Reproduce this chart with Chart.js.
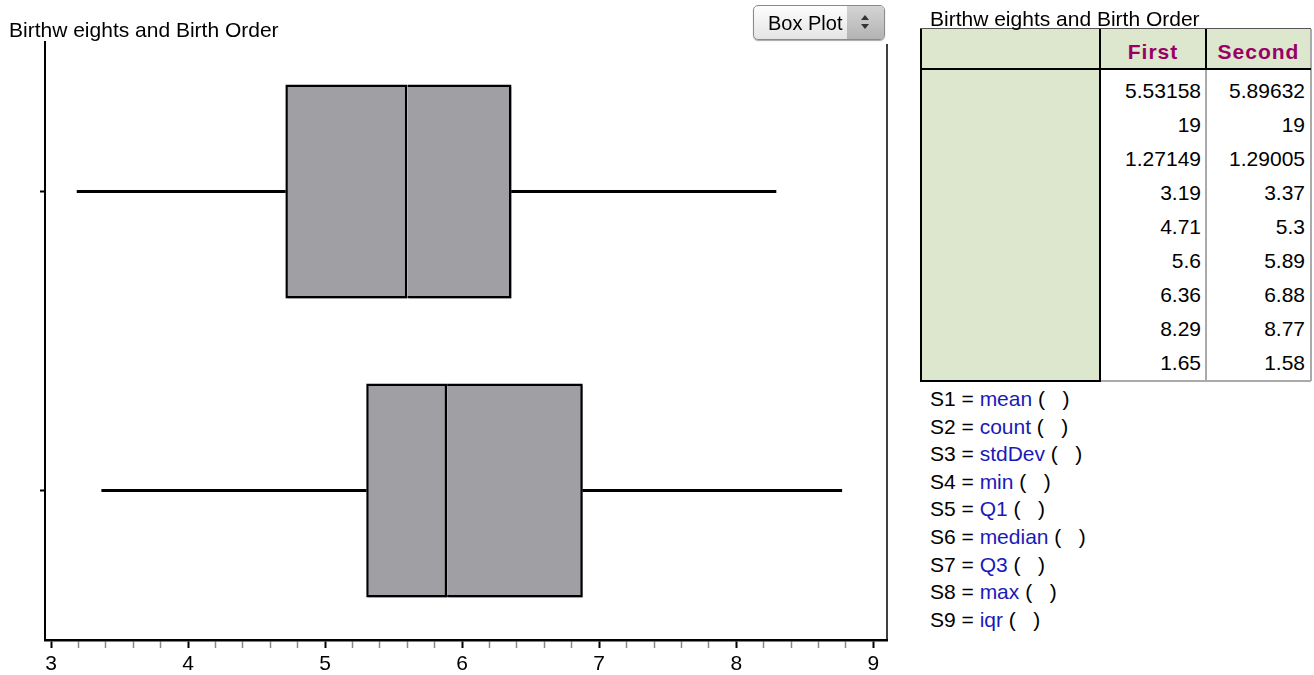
<!DOCTYPE html>
<html>
<head>
<meta charset="utf-8">
<script src="https://cdn.jsdelivr.net/npm/chart.js@4/dist/chart.umd.min.js"></script>
<style>
    html, body { margin: 0; padding: 0; background: #fff; }
    body { width: 1314px; height: 675px; position: relative; overflow: hidden;
           font-family: 'Liberation Sans', Arial, sans-serif; color: #000; }
    .abs { position: absolute; }
    #chartBox { left: 0; top: 0; width: 900px; height: 675px; }
    .title { font-size: 21px; line-height: 21px; white-space: pre; z-index: 2; }
    #plotTitle { left: 9px; top: 19px; }
    #tableTitle { left: 930px; top: 8px; }
    #btn { left: 753px; top: 5px; width: 130px; height: 33px; border: 1px solid #8a8a8a;
           border-radius: 5px; background: linear-gradient(#fdfdfd, #e4e4e4); z-index: 2;
           box-shadow: 0 1px 1px rgba(0,0,0,0.35); overflow: hidden; }
    #btn .lbl { position: absolute; left: 14px; top: 7px; font-size: 20px; line-height: 20px; }
    #btn .spin { position: absolute; right: 0; top: 0; width: 37px; height: 33px;
                 background: linear-gradient(#d4d4d4, #b3b3b3); }
    #btn .spin::before, #btn .spin::after { content: ''; position: absolute; left: 14px;
                 border-left: 4px solid transparent; border-right: 4px solid transparent; }
    #btn .spin::before { top: 9px; border-bottom: 5px solid #333; }
    #btn .spin::after { top: 18px; border-top: 5px solid #333; }
    .cell { position: absolute; font-size: 21px; line-height: 21px; text-align: right;
            box-sizing: border-box; white-space: pre; }
    .hdr { color: #990066; font-weight: bold; letter-spacing: 1px; text-align: center; }
    .sline { position: absolute; left: 930px; font-size: 21px; line-height: 21px; white-space: pre; }
    .fn { color: #1a1ab8; }
</style>
</head>
<body>
<div id="chartBox" class="abs"><canvas id="chart"></canvas></div>
<div id="plotTitle" class="abs title">Birthw eights and Birth Order</div>
<div id="btn" class="abs"><span class="lbl">Box Plot</span><span class="spin"></span></div>
<div id="tableTitle" class="abs title">Birthw eights and Birth Order</div>
<div id="table"></div>
<div id="slines"></div>

<script>
const categories = ['First', 'Second'];
const minValues = [3.19, 3.37];
const q1Values = [4.71, 5.3];
const medianValues = [5.6, 5.89];
const q3Values = [6.36, 6.88];
const maxValues = [8.29, 8.77];
const meanValues = ['5.53158', '5.89632'];
const countValues = ['19', '19'];
const stdDevValues = ['1.27149', '1.29005'];
const iqrValues = ['1.65', '1.58'];
const xTickLabels = ['3', '4', '5', '6', '7', '8', '9'];
const statNames = ['mean', 'count', 'stdDev', 'min', 'Q1', 'median', 'Q3', 'max', 'iqr'];

// ---- Chart ----
const BOX_FILL = '#a09fa4';
const isMajor = (v) => xTickLabels.includes(String(Math.round(v))) && Math.abs(v - Math.round(v)) < 1e-6;

const rightBorder = {
    id: 'rightBorder',
    afterDraw(chart) {
        const { ctx, chartArea } = chart;
        ctx.save();
        ctx.strokeStyle = '#000';
        ctx.lineWidth = 1.5;
        ctx.beginPath();
        ctx.moveTo(chartArea.right, chartArea.top + 2);
        ctx.lineTo(chartArea.right, chartArea.bottom);
        ctx.stroke();
        ctx.restore();
    },
};

// soft drop shadow under the two box halves
const boxShadow = {
    id: 'boxShadow',
    beforeDatasetDraw(chart, args) {
        if (args.index > 1) return;
        const ctx = chart.ctx;
        ctx.save();
        ctx.shadowColor = 'rgba(0, 0, 0, 0.35)';
        ctx.shadowOffsetX = 2;
        ctx.shadowOffsetY = 2;
        ctx.shadowBlur = 1;
    },
    afterDatasetDraw(chart, args) {
        if (args.index > 1) return;
        chart.ctx.restore();
    },
};

Chart.defaults.font.family = "'Liberation Sans', Arial, sans-serif";
Chart.defaults.font.size = 21;
Chart.defaults.color = '#000';

new Chart(document.getElementById('chart').getContext('2d'), {
    type: 'bar',
    data: {
        labels: categories,
        datasets: [
            {
                label: 'upper box',
                data: categories.map((c, i) => [medianValues[i], q3Values[i]]),
                backgroundColor: BOX_FILL,
                borderColor: '#000',
                borderWidth: 2.5,
                borderSkipped: 'left',
                barPercentage: 0.716,
                categoryPercentage: 1,
                grouped: false,
            },
            {
                label: 'lower box',
                data: categories.map((c, i) => [q1Values[i], medianValues[i]]),
                backgroundColor: BOX_FILL,
                borderColor: '#000',
                borderWidth: 2.5,
                borderSkipped: false,
                barPercentage: 0.716,
                categoryPercentage: 1,
                grouped: false,
            },
            {
                label: 'lower whisker',
                data: categories.map((c, i) => [minValues[i], q1Values[i]]),
                backgroundColor: '#000',
                borderWidth: 0,
                barThickness: 2.5,
                grouped: false,
            },
            {
                label: 'upper whisker',
                data: categories.map((c, i) => [q3Values[i], maxValues[i]]),
                backgroundColor: '#000',
                borderWidth: 0,
                barThickness: 2.5,
                grouped: false,
            },
        ],
    },
    options: {
        indexAxis: 'y',
        responsive: true,
        maintainAspectRatio: false,
        animation: false,
        layout: { padding: { left: 0, top: 42, right: 13, bottom: 0 } },
        plugins: { legend: { display: false }, tooltip: { enabled: false } },
        scales: {
            x: {
                type: 'linear',
                min: 2.956,
                max: 9.1,
                afterBuildTicks: (axis) => {
                    axis.ticks = axis.ticks
                        .map((t) => ({ value: Math.round(t.value * 10) / 10 }))
                        .filter((t) => t.value >= 3 && t.value <= 9);
                },
                afterFit: (axis) => { axis.height = 35; },
                ticks: {
                    stepSize: 0.2,
                    includeBounds: false,
                    autoSkip: false,
                    maxRotation: 0,
                    padding: 4,
                    callback: (v) => (isMajor(v) ? String(Math.round(v)) : ''),
                },
                grid: {
                    drawOnChartArea: false,
                    tickLength: 8,
                    tickColor: (ctx) => (ctx.tick && isMajor(ctx.tick.value) ? '#000' : '#888'),
                    tickWidth: (ctx) => (ctx.tick && isMajor(ctx.tick.value) ? 2 : 1.5),
                },
                border: { display: true, color: '#000', width: 2.5 },
            },
            y: {
                type: 'category',
                offset: true,
                afterFit: (axis) => { axis.width = 45; },
                ticks: { display: false },
                grid: {
                    offset: false,
                    drawOnChartArea: false,
                    tickLength: 5,
                    tickColor: '#000',
                    tickWidth: 2,
                },
                border: { display: true, color: '#000', width: 2 },
            },
        },
    },
    plugins: [rightBorder, boxShadow],
});

// ---- Summary table ----
const table = document.getElementById('table');
const TX = 921, TY = 29, C1 = 1100, C2 = 1206, C3 = 1311, HDR_B = 69, ROW_H = 34, TB = 381;

function box(l, t, w, h, style) {
    const d = document.createElement('div');
    d.className = 'abs';
    Object.assign(d.style, { left: l + 'px', top: t + 'px', width: w + 'px', height: h + 'px' }, style);
    table.appendChild(d);
    return d;
}

box(TX, TY, C3 - TX, TB - TY, { background: '#fff' });
box(TX, TY, C1 - TX, TB - TY, { background: '#dde7cd' });
box(C1, TY, C3 - C1, HDR_B - TY, { background: '#dde7cd' });
// grey lines in the data area
box(C2 - 1, HDR_B, 2, TB - HDR_B, { background: '#aaa' });
box(C3 - 1, TY, 2, TB - TY, { background: '#aaa' });
box(C1, TB - 1, C3 - C1, 2, { background: '#aaa' });
// black lines
box(TX - 1, TY, 2, TB - TY + 1, { background: '#000' });
box(TX - 1, TY - 1, C3 - TX + 1, 1, { background: '#555' });
box(TX - 1, HDR_B - 1, C3 - TX + 1, 2, { background: '#000' });
box(C1 - 1, TY, 2, TB - TY + 1, { background: '#000' });
box(C2 - 1, TY, 2, HDR_B - TY, { background: '#000' });
box(TX - 1, TB - 1, C1 - TX + 1, 2, { background: '#000' });

categories.forEach((name, i) => {
    const x0 = i === 0 ? C1 : C2;
    const h = box(x0, TY, (i === 0 ? C2 : C3) - x0, HDR_B - TY, { paddingTop: '12px', boxSizing: 'border-box' });
    h.className = 'cell hdr';
    h.textContent = name;
});

const columns = [meanValues, countValues, stdDevValues,
    minValues.map(String), q1Values.map(String), medianValues.map(String),
    q3Values.map(String), maxValues.map(String), iqrValues];
columns.forEach((vals, r) => {
    vals.forEach((v, i) => {
        const x0 = i === 0 ? C1 : C2;
        const w = (i === 0 ? C2 : C3) - x0;
        const c = box(x0, HDR_B + r * ROW_H, w, ROW_H, { paddingTop: '11px', paddingRight: i === 0 ? '5px' : '6px' });
        c.className = 'cell';
        c.textContent = v;
    });
});

// ---- Formula lines ----
const slines = document.getElementById('slines');
statNames.forEach((fn, k) => {
    const d = document.createElement('div');
    d.className = 'sline';
    d.style.top = (388 + k * 27.6) + 'px';
    d.innerHTML = `S${k + 1} = <span class="fn">${fn}</span> (   )`;
    slines.appendChild(d);
});
</script>
</body>
</html>
